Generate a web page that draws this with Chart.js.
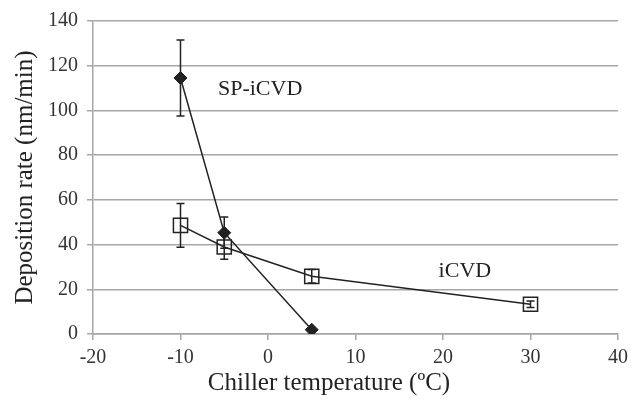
<!DOCTYPE html>
<html>
<head>
<meta charset="utf-8">
<script src="https://cdn.jsdelivr.net/npm/chart.js@4.4.1/dist/chart.umd.min.js"></script>
<style>
  html, body { margin: 0; padding: 0; background: #fff; }
  #wrap { width: 638px; height: 405px; }
</style>
</head>
<body>
<div id="wrap"><canvas id="chart" width="638" height="405"></canvas></div>
<script>
// data
const spTemps = [-10, -5, 5];
const spRates = [114.5, 45.3, 1.9];
const spErrors = [17, 7, 0];

const icvdTemps = [-10, -5, 5, 30];
const icvdRates = [48.6, 38.9, 25.8, 13.3];
const icvdErrors = [9.8, 5.5, 3, 1.5];

const xTicks = [-20, -10, 0, 10, 20, 30, 40];
const yTicks = [0, 20, 40, 60, 80, 100, 120, 140];

// in-plot labels (data coordinates)
const seriesLabels = [
    { text: 'SP-iCVD', x: -0.9, y: 109.6 },
    { text: 'iCVD', x: 22.5, y: 28.0 }
];

const ink = '#222';
const gridGray = '#a6a6a6';
const serif = "'Liberation Serif', 'Times New Roman', serif";

function toPoints(xs, ys) {
    return xs.map((x, i) => ({ x: x, y: ys[i] }));
}

// error bars drawn through the scales
const errorBarPlugin = {
    id: 'errorBars',
    afterDatasetsDraw(chart) {
        const ctx = chart.ctx;
        const xs = chart.scales.x;
        const ys = chart.scales.y;
        const sets = [[spTemps, spRates, spErrors], [icvdTemps, icvdRates, icvdErrors]];
        ctx.save();
        ctx.strokeStyle = ink;
        ctx.lineWidth = 1.5;
        sets.forEach(([tx, ry, er]) => {
            tx.forEach((t, i) => {
                if (!er[i]) return;
                const px = xs.getPixelForValue(t);
                const top = ys.getPixelForValue(ry[i] + er[i]);
                const bot = ys.getPixelForValue(ry[i] - er[i]);
                ctx.beginPath();
                ctx.moveTo(px, top); ctx.lineTo(px, bot);
                ctx.moveTo(px - 4, top); ctx.lineTo(px + 4, top);
                ctx.moveTo(px - 4, bot); ctx.lineTo(px + 4, bot);
                ctx.stroke();
            });
        });
        ctx.restore();
    }
};

const labelPlugin = {
    id: 'seriesLabels',
    afterDraw(chart) {
        const ctx = chart.ctx;
        ctx.save();
        ctx.fillStyle = ink;
        ctx.font = '22px ' + serif;
        ctx.textAlign = 'center';
        ctx.textBaseline = 'middle';
        seriesLabels.forEach(l => {
            ctx.fillText(l.text, chart.scales.x.getPixelForValue(l.x), chart.scales.y.getPixelForValue(l.y));
        });
        // x axis title, centred a little left of the plot centre like the original
        ctx.font = '25px ' + serif;
        ctx.fillText('Chiller temperature (ºC)', 329, 383);
        ctx.restore();
    }
};

new Chart(document.getElementById('chart'), {
    type: 'scatter',
    data: {
        datasets: [
            {
                label: 'SP-iCVD',
                data: toPoints(spTemps, spRates),
                showLine: true,
                borderColor: ink,
                borderWidth: 1.5,
                pointStyle: 'rectRot',
                pointRadius: 6.5,
                pointBackgroundColor: ink,
                pointBorderColor: ink,
                pointBorderWidth: 1
            },
            {
                label: 'iCVD',
                data: toPoints(icvdTemps, icvdRates),
                showLine: true,
                borderColor: ink,
                borderWidth: 1.5,
                pointStyle: 'rect',
                pointRadius: 10,
                pointBackgroundColor: 'rgba(0,0,0,0)',
                pointBorderColor: ink,
                pointBorderWidth: 1.5
            }
        ]
    },
    options: {
        responsive: false,
        animation: false,
        layout: { padding: { left: 0, right: 20, top: 19, bottom: 0 } },
        plugins: {
            legend: { display: false },
            tooltip: { enabled: false }
        },
        scales: {
            x: {
                type: 'linear',
                min: -20, max: 40,
                afterBuildTicks: s => { s.ticks = xTicks.map(v => ({ value: v })); },
                afterFit: s => { s.height = 71; },
                grid: { drawOnChartArea: false, drawTicks: true, tickLength: 6, color: gridGray, lineWidth: 1.5 },
                border: { color: gridGray, width: 1.5 },
                ticks: { color: '#333', font: { family: serif, size: 20 }, padding: 6 }
            },
            y: {
                min: 0, max: 140,
                afterBuildTicks: s => { s.ticks = yTicks.map(v => ({ value: v })); },
                afterFit: s => { s.width = 93; },
                grid: { color: gridGray, lineWidth: 1.5, tickLength: 6 },
                border: { color: gridGray, width: 1.5 },
                ticks: { color: '#333', font: { family: serif, size: 20 }, padding: 9 },
                title: {
                    display: true,
                    text: 'Deposition rate (nm/min)',
                    color: ink,
                    font: { family: serif, size: 25 },
                    padding: { top: 10, bottom: 0 }
                }
            }
        }
    },
    plugins: [errorBarPlugin, labelPlugin]
});
</script>
</body>
</html>
